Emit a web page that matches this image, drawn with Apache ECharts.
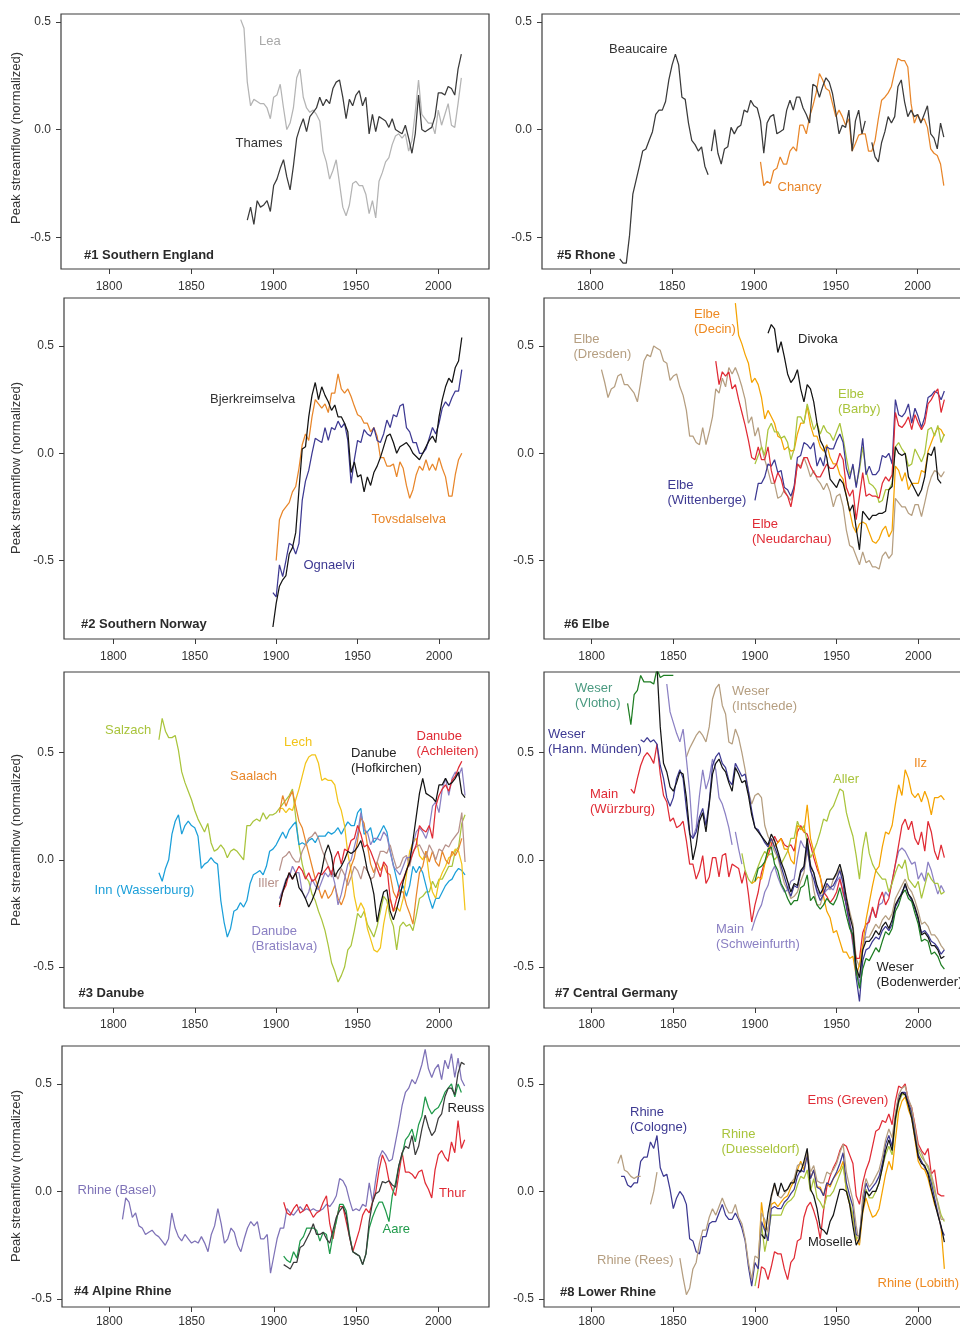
<!DOCTYPE html>
<html><head><meta charset="utf-8">
<script src="https://cdn.jsdelivr.net/npm/echarts@6/dist/echarts.min.js"></script>
<style>html,body{margin:0;padding:0;background:#fff}#c{width:960px;height:1327px}</style>
</head><body><div id="c"></div>
<script>
// ---------- tick labels ----------
const xTicks = [1800, 1850, 1900, 1950, 2000];
const yTicks = [-0.5, 0, 0.5];

// ---------- data (values every 2 years from the given start year) ----------
// #1 Southern England
const leaStart = 1880;
const lea = [0.51,0.47,0.22,0.11,0.14,0.13,0.12,0.12,0.10,0.05,0.15,0.16,0.21,0.10,0.00,0.03,0.10,0.24,0.28,0.15,0.10,0.08,0.09,0.07,0.04,-0.10,-0.15,-0.23,-0.19,-0.14,-0.25,-0.36,-0.40,-0.35,-0.25,-0.24,-0.26,-0.26,-0.30,-0.39,-0.33,-0.41,-0.24,-0.20,-0.15,-0.13,-0.07,-0.03,-0.02,-0.04,-0.02,-0.10,-0.05,0.08,0.23,0.07,0.05,0.03,0.03,-0.02,0.09,0.02,0.07,0.12,0.02,0.01,0.12,0.24];
const thamesStart = 1884;
const thames = [-0.42,-0.36,-0.44,-0.33,-0.36,-0.35,-0.33,-0.38,-0.26,-0.23,-0.18,-0.14,-0.22,-0.28,-0.17,-0.04,0.01,0.05,-0.01,0.06,0.08,0.10,0.15,0.11,0.14,0.12,0.19,0.22,0.23,0.15,0.05,0.14,0.11,0.16,0.18,0.11,0.15,-0.02,0.07,-0.01,0.06,0.05,0.04,0.01,0.05,0.00,-0.01,-0.02,0.02,-0.04,-0.11,-0.02,0.16,0.00,-0.01,0.00,0.01,0.06,0.17,0.17,0.16,0.20,0.19,0.16,0.28,0.35];

// #2 Southern Norway
const bjerkStart = 1898;
const bjerk = [-0.81,-0.70,-0.62,-0.59,-0.57,-0.47,-0.44,-0.37,-0.17,0.02,0.03,0.17,0.27,0.33,0.25,0.31,0.27,0.24,0.20,0.225,0.17,0.17,0.14,0.10,-0.09,-0.04,-0.11,-0.10,-0.18,-0.11,-0.15,-0.09,-0.06,-0.02,0.03,0.08,0.09,0.05,0.00,0.03,0.04,0.05,0.03,0.00,-0.015,-0.03,0.00,0.03,0.06,0.08,0.05,0.17,0.25,0.31,0.35,0.33,0.40,0.43,0.54];
const tovsStart = 1900;
const tovs = [-0.50,-0.31,-0.27,-0.25,-0.23,-0.18,-0.155,-0.07,0.04,0.09,0.06,0.17,0.25,0.23,0.21,0.23,0.19,0.28,0.28,0.37,0.30,0.28,0.30,0.265,0.22,0.18,0.17,0.14,0.14,0.10,0.12,0.08,-0.02,-0.02,-0.06,-0.06,-0.05,-0.11,-0.04,-0.07,-0.15,-0.21,-0.17,-0.10,-0.06,-0.08,-0.03,-0.08,-0.05,-0.08,-0.02,-0.07,-0.11,-0.20,-0.20,-0.10,-0.03,0.00];
const ognaStart = 1898;
const ogna = [-0.65,-0.67,-0.52,-0.575,-0.50,-0.42,-0.43,-0.47,-0.42,-0.22,-0.13,-0.08,0.00,0.07,0.06,0.05,0.12,0.06,0.12,0.11,0.15,0.12,0.14,0.06,-0.14,-0.03,0.06,0.05,0.11,0.09,0.08,0.12,0.06,0.05,0.09,0.155,0.12,0.18,0.17,0.22,0.23,0.12,0.10,0.05,0.05,0.00,0.00,0.02,0.07,0.12,0.09,0.14,0.21,0.24,0.22,0.26,0.29,0.29,0.39];

// #3 Danube
const salzachStart = 1828;
const salzach = [0.56,0.66,0.60,0.57,0.57,0.58,0.51,0.41,0.36,0.32,0.28,0.23,0.19,0.16,0.13,0.17,0.08,0.04,0.05,0.07,0.05,0.01,0.04,0.05,0.04,0.02,0.00,0.16,0.16,0.18,0.19,0.18,0.22,0.19,0.21,0.21,0.22,0.24,0.26,0.28,0.30,0.33,0.20,0.07,-0.02,-0.08,-0.10,-0.16,-0.19,-0.24,-0.28,-0.33,-0.40,-0.48,-0.52,-0.57,-0.54,-0.50,-0.42,-0.40,-0.33,-0.25,-0.27,-0.24,-0.30,-0.33,-0.36,-0.31,-0.24,-0.17,-0.19,-0.27,-0.31,-0.42,-0.31,-0.29,-0.31,-0.30,-0.33,-0.26,-0.18,-0.17,-0.15,-0.15,-0.10,-0.13,-0.09,-0.09,-0.06,-0.03,-0.03,0.04,0.06,0.17,0.21];
const innStart = 1828;
const inn = [-0.06,-0.10,-0.04,0.00,0.12,0.18,0.21,0.12,0.16,0.18,0.16,0.15,0.11,-0.04,-0.02,-0.01,0.01,-0.01,-0.02,-0.19,-0.29,-0.36,-0.32,-0.24,-0.23,-0.20,-0.22,-0.19,-0.11,-0.07,-0.06,-0.05,-0.07,-0.03,0.04,0.05,0.07,0.10,0.13,0.10,0.14,0.16,0.177,0.07,0.08,0.07,0.09,0.10,0.08,0.11,0.11,0.11,0.13,0.12,0.13,0.15,0.12,0.15,0.177,0.16,0.16,0.22,0.24,0.12,0.13,0.15,0.08,0.10,0.13,0.16,0.13,0.04,-0.025,-0.09,-0.15,-0.12,-0.17,-0.12,-0.03,-0.06,-0.03,-0.06,-0.12,-0.18,-0.227,-0.18,-0.18,-0.15,-0.12,-0.10,-0.09,-0.06,-0.04,-0.05,-0.07];
const lechStart = 1902;
const lech = [0.24,0.24,0.22,0.24,0.23,0.28,0.33,0.39,0.45,0.48,0.49,0.49,0.45,0.37,0.38,0.37,0.37,0.35,0.27,0.23,0.16,0.03,-0.05,-0.17,-0.24,-0.20,-0.23,-0.32,-0.37,-0.42,-0.43,-0.41,-0.30,-0.22,-0.18,-0.24,-0.22,-0.24,-0.18,-0.07,0.04,0.08,0.10,0.02,0.00,0.04,-0.08,-0.15,-0.18,-0.10,-0.06,-0.03,0.01,0.02,0.05,0.04,-0.02,-0.235];
const saalachStart = 1902;
const saalach = [0.22,0.30,0.25,0.29,0.32,0.25,0.18,0.15,0.09,0.03,-0.03,-0.09,-0.13,-0.18,-0.14,-0.18,-0.16,-0.12,-0.18,-0.21,-0.17,-0.09,-0.03,0.01,0.09,0.20,0.17,0.07,-0.02,-0.06,-0.01,-0.05,-0.02,-0.06,-0.07,-0.15,-0.18,-0.15,-0.15,-0.21,-0.25,-0.30,-0.17,-0.06,-0.03,0.04,-0.01,0.04,-0.01,-0.03,0.04,0.00,-0.02,0.04,0.02,0.05,0.10];
const illerStart = 1902;
const iller = [-0.05,0.01,0.02,0.04,0.01,-0.01,-0.01,0.04,0.07,0.10,0.11,0.13,0.10,0.05,0.01,-0.03,-0.08,-0.06,-0.09,-0.04,-0.07,-0.12,-0.08,-0.03,-0.05,-0.09,-0.03,-0.05,-0.09,-0.08,-0.01,0.04,0.04,0.03,0.07,0.01,-0.04,-0.03,0.01,0.02,-0.03,0.04,0.06,0.07,0.04,0.01,0.07,0.04,0.00,0.05,0.04,0.07,0.06,0.09,0.11,0.13,0.22,-0.01];
const bratStart = 1902;
const brat = [-0.18,-0.14,-0.09,-0.08,-0.03,-0.06,-0.06,-0.15,-0.18,-0.15,-0.09,-0.12,-0.14,-0.10,-0.06,-0.08,-0.05,-0.11,-0.21,-0.16,-0.09,-0.02,0.00,0.06,0.12,0.22,0.14,0.13,0.07,0.10,0.10,0.09,0.13,0.11,0.04,-0.03,-0.05,-0.07,-0.03,0.01,0.01,0.07,0.13,0.15,0.13,0.10,0.15,0.25,0.27,0.22,0.33,0.38,0.30,0.38,0.41,0.39,0.43,0.30];
const hofStart = 1902;
const hof = [-0.21,-0.15,-0.10,-0.06,-0.09,-0.06,-0.13,-0.15,-0.18,-0.22,-0.19,-0.15,-0.10,-0.05,0.03,0.07,0.02,-0.08,-0.05,-0.03,0.00,0.04,0.03,0.04,0.06,0.09,0.03,-0.05,-0.09,-0.16,-0.29,-0.21,-0.15,-0.14,-0.24,-0.28,-0.23,-0.17,-0.10,-0.05,-0.01,0.09,0.20,0.31,0.38,0.31,0.30,0.29,0.27,0.35,0.35,0.38,0.35,0.36,0.38,0.41,0.31,0.29];
const achStart = 1902;
const ach = [-0.22,-0.15,-0.12,-0.06,-0.09,-0.06,-0.03,-0.05,-0.09,-0.06,-0.10,-0.09,-0.06,-0.07,-0.05,-0.03,-0.07,0.01,0.04,-0.02,0.05,0.04,0.09,0.10,0.16,0.12,0.06,0.07,0.04,0.00,-0.04,-0.08,-0.01,-0.03,-0.18,-0.24,-0.18,-0.12,-0.09,-0.05,-0.01,0.03,0.07,0.16,0.14,0.13,0.16,0.10,0.25,0.30,0.33,0.35,0.32,0.37,0.39,0.43,0.46];

// #4 Alpine Rhine
const baselStart = 1808;
const basel = [-0.13,-0.03,-0.05,-0.12,-0.10,-0.16,-0.17,-0.20,-0.19,-0.18,-0.20,-0.21,-0.23,-0.25,-0.22,-0.10,-0.17,-0.21,-0.23,-0.20,-0.22,-0.24,-0.23,-0.24,-0.21,-0.24,-0.28,-0.20,-0.16,-0.08,-0.15,-0.24,-0.22,-0.17,-0.19,-0.25,-0.28,-0.22,-0.17,-0.14,-0.16,-0.14,-0.22,-0.22,-0.20,-0.38,-0.30,-0.22,-0.17,-0.17,-0.08,-0.10,-0.11,-0.09,-0.07,-0.09,-0.08,-0.09,-0.08,-0.09,-0.09,-0.08,-0.06,-0.07,-0.05,-0.02,0.06,0.05,0.02,-0.04,-0.09,-0.08,-0.09,-0.06,-0.07,0.04,-0.05,0.06,0.155,0.19,0.17,0.14,0.15,0.23,0.31,0.40,0.46,0.48,0.52,0.50,0.54,0.59,0.66,0.57,0.53,0.57,0.59,0.52,0.61,0.57,0.64,0.53,0.62,0.52,0.49];
const aareStart = 1906;
const aare = [-0.30,-0.32,-0.33,-0.28,-0.31,-0.23,-0.21,-0.17,-0.17,-0.17,-0.18,-0.23,-0.19,-0.20,-0.29,-0.20,-0.14,-0.06,-0.06,-0.09,-0.20,-0.28,-0.29,-0.30,-0.34,-0.29,-0.17,-0.12,-0.08,-0.05,-0.05,-0.09,-0.14,-0.02,0.04,0.12,0.17,0.24,0.26,0.29,0.23,0.31,0.35,0.44,0.39,0.36,0.38,0.39,0.42,0.46,0.48,0.50,0.44,0.50,0.46];
const reussStart = 1906;
const reuss = [-0.34,-0.35,-0.36,-0.33,-0.33,-0.26,-0.25,-0.22,-0.19,-0.15,-0.20,-0.20,-0.19,-0.22,-0.24,-0.18,-0.12,-0.09,-0.07,-0.11,-0.21,-0.28,-0.29,-0.30,-0.34,-0.29,-0.14,-0.05,-0.01,0.00,0.046,0.04,0.05,0.03,0.02,0.12,0.18,0.21,0.20,0.26,0.17,0.21,0.29,0.355,0.30,0.26,0.28,0.34,0.36,0.44,0.48,0.48,0.45,0.55,0.60,0.59];
const thurStart = 1906;
const thur = [-0.05,-0.10,-0.11,-0.08,-0.06,-0.10,-0.09,-0.06,-0.09,-0.12,-0.10,-0.09,-0.05,-0.02,-0.15,-0.22,-0.13,-0.07,-0.07,-0.14,-0.21,-0.28,-0.23,-0.18,-0.11,-0.08,-0.10,-0.05,0.00,0.10,0.17,0.13,0.05,0.01,-0.02,0.08,0.18,0.09,0.09,0.08,0.06,0.09,0.10,0.04,0.01,-0.03,0.10,0.17,0.19,0.16,0.14,0.23,0.18,0.33,0.20,0.24];

// #5 Rhone
const beauStartA = 1818;
const beauA = [-0.60,-0.62,-0.62,-0.49,-0.30,-0.235,-0.17,-0.10,-0.09,-0.05,-0.01,0.07,0.09,0.09,0.13,0.23,0.30,0.35,0.30,0.15,0.14,0.03,-0.05,-0.07,-0.10,-0.08,-0.17,-0.21];
const beauStartB = 1874;
const beauB = [-0.10,0.00,-0.11,-0.16,-0.09,-0.08,0.01,-0.02,0.01,0.02,0.09,0.08,0.136,0.11,0.10,0.04,-0.11,0.03,0.06,0.07,-0.02,-0.01,0.00,0.09,0.136,0.09,0.15,0.15,0.10,0.07,0.03,0.21,0.20,0.15,0.20,0.24,0.22,0.167,0.08,-0.02,0.02,0.01,0.09,-0.10,0.04,0.09,-0.02,0.04];
const beauStartC = 1972;
const beauC = [-0.06,-0.127,-0.15,-0.06,-0.01,0.06,0.03,0.06,0.20,0.23,0.13,0.06,0.09,0.06,0.07,0.03,0.07,0.11,-0.02,-0.04,-0.09,0.03,-0.035];
const chancyStart = 1904;
const chancy = [-0.15,-0.26,-0.24,-0.25,-0.19,-0.18,-0.127,-0.16,-0.16,-0.10,-0.08,-0.10,0.02,0.02,-0.02,0.06,0.11,0.17,0.26,0.23,0.19,0.18,0.12,0.06,0.09,0.06,0.02,0.05,-0.10,-0.065,-0.026,-0.02,-0.02,-0.10,-0.10,-0.05,0.05,0.136,0.15,0.17,0.20,0.27,0.33,0.32,0.32,0.29,0.12,0.03,0.07,0.04,0.05,0.01,-0.09,-0.11,-0.12,-0.16,-0.26];

// #6 Elbe
const dresdenStart = 1806;
const dresden = [0.39,0.33,0.26,0.30,0.31,0.36,0.37,0.32,0.32,0.30,0.28,0.24,0.33,0.43,0.46,0.45,0.50,0.49,0.48,0.43,0.42,0.34,0.36,0.37,0.31,0.27,0.20,0.08,0.08,0.05,0.04,0.12,0.04,0.10,0.17,0.30,0.28,0.35,0.31,0.40,0.37,0.40,0.36,0.31,0.25,0.14,0.17,0.08,0.12,0.03,-0.03,-0.08,-0.14,-0.14,-0.21,-0.20,-0.17,-0.20,-0.22,-0.16,-0.05,-0.06,-0.02,-0.06,-0.11,-0.08,-0.12,-0.14,-0.17,-0.14,-0.18,-0.25,-0.20,-0.19,-0.25,-0.36,-0.43,-0.44,-0.48,-0.52,-0.46,-0.51,-0.50,-0.53,-0.53,-0.54,-0.48,-0.46,-0.49,-0.47,-0.21,-0.23,-0.25,-0.25,-0.28,-0.29,-0.24,-0.24,-0.295,-0.23,-0.16,-0.11,-0.08,-0.09,-0.11,-0.085];
const decinStart = 1888;
const decin = [0.70,0.55,0.51,0.46,0.42,0.33,0.35,0.32,0.26,0.16,0.20,0.17,0.14,0.08,0.07,0.016,0.03,0.01,0.015,0.09,0.14,0.14,0.22,0.13,0.08,0.08,0.03,0.01,0.04,-0.02,-0.05,-0.05,-0.10,-0.12,-0.20,-0.27,-0.34,-0.37,-0.33,-0.32,-0.33,-0.37,-0.41,-0.42,-0.40,-0.36,-0.34,-0.39,-0.36,-0.06,-0.08,-0.13,-0.09,-0.17,-0.14,-0.14,-0.14,-0.08,-0.09,0.01,0.05,0.09,0.12,0.11,0.08];
const divokaStart = 1908;
const divoka = [0.56,0.60,0.58,0.47,0.52,0.45,0.37,0.33,0.35,0.39,0.30,0.24,0.32,0.30,0.24,0.14,0.06,0.03,-0.02,-0.12,-0.14,-0.16,-0.12,-0.14,-0.20,-0.27,-0.24,-0.35,-0.45,-0.27,-0.29,-0.31,-0.29,-0.29,-0.28,-0.28,-0.27,-0.17,-0.155,0.03,0.00,-0.01,0.00,-0.11,-0.14,-0.17,-0.20,-0.17,-0.11,0.00,-0.01,0.03,-0.12,-0.14];
const barbyStart = 1900;
const barby = [-0.05,-0.01,0.03,-0.01,0.11,0.14,0.10,0.10,0.07,0.08,0.05,-0.03,0.02,0.17,0.17,0.14,0.23,0.17,0.11,0.14,0.09,0.13,0.10,0.09,0.06,0.10,0.14,0.07,-0.02,-0.10,-0.06,-0.15,-0.08,0.03,-0.08,-0.14,-0.15,-0.17,-0.23,-0.22,-0.17,-0.17,-0.14,0.03,0.05,0.02,0.00,-0.06,-0.05,0.02,-0.01,-0.04,0.00,0.11,0.12,0.08,0.13,0.05,0.09];
const wittStart = 1900;
const witt = [-0.22,-0.14,-0.14,-0.11,-0.05,-0.06,-0.03,-0.09,-0.08,-0.16,-0.17,-0.20,-0.155,-0.02,-0.01,0.05,0.04,0.02,0.05,-0.06,-0.02,-0.06,0.03,0.02,0.02,0.06,0.09,0.05,-0.07,-0.12,-0.05,-0.16,-0.06,0.07,-0.10,-0.06,-0.10,-0.10,-0.08,-0.01,-0.02,0.00,-0.05,0.25,0.18,0.17,0.19,0.23,0.14,0.21,0.17,0.12,0.17,0.26,0.27,0.29,0.28,0.25,0.29];
const neudStart = 1876;
const neud = [0.43,0.32,0.38,0.36,0.38,0.30,0.32,0.25,0.19,0.13,0.06,-0.02,-0.03,0.03,-0.03,-0.03,0.03,-0.08,-0.14,-0.09,-0.12,-0.18,-0.20,-0.25,-0.17,-0.05,-0.07,-0.02,-0.02,-0.06,-0.09,-0.11,-0.11,-0.08,-0.05,-0.07,-0.07,-0.05,0.00,-0.03,-0.16,-0.20,-0.17,-0.31,-0.20,-0.09,-0.20,-0.19,-0.20,-0.20,-0.21,-0.14,-0.11,-0.13,-0.10,0.19,0.13,0.12,0.14,0.17,0.11,0.18,0.14,0.11,0.14,0.23,0.25,0.28,0.30,0.19,0.25];

// #7 Central Germany
const vlothoStartA = 1822;
const vlothoA = [0.73,0.63,0.77,0.79,0.86,0.83,0.83,0.83,0.82,0.89,0.85,0.86,0.86,0.86,0.86];
const vlothoStartB = 1900;
const vlothoB = [-0.10,-0.04,-0.03,-0.01,0.05,0.06,-0.02,-0.05,-0.11,-0.14,-0.18,-0.21,-0.19,-0.19,-0.13,-0.12,-0.07,-0.19,-0.17,-0.21,-0.23,-0.21,-0.18,-0.20,-0.21,-0.18,-0.13,-0.19,-0.26,-0.32,-0.35,-0.52,-0.60,-0.51,-0.46,-0.47,-0.44,-0.41,-0.43,-0.38,-0.335,-0.35,-0.32,-0.24,-0.21,-0.16,-0.14,-0.18,-0.195,-0.25,-0.30,-0.38,-0.37,-0.38,-0.44,-0.43,-0.45,-0.49,-0.51];
const bodenStart = 1840;
const boden = [0.90,0.62,0.45,0.41,0.34,0.32,0.36,0.41,0.40,0.29,0.13,0.00,0.07,0.18,0.22,0.13,0.26,0.40,0.45,0.47,0.43,0.41,0.36,0.32,0.43,0.40,0.36,0.37,0.30,0.21,0.15,0.13,0.11,0.09,0.07,0.12,0.09,0.04,-0.01,-0.05,-0.10,-0.15,-0.11,-0.12,-0.05,-0.03,0.10,-0.03,-0.06,-0.12,-0.16,-0.13,-0.09,-0.09,-0.09,-0.06,-0.02,-0.08,-0.18,-0.26,-0.32,-0.50,-0.55,-0.42,-0.38,-0.38,-0.36,-0.33,-0.35,-0.31,-0.29,-0.32,-0.28,-0.21,-0.18,-0.16,-0.11,-0.16,-0.18,-0.22,-0.27,-0.35,-0.34,-0.36,-0.40,-0.40,-0.42,-0.46,-0.45];
const hannStart = 1830;
const hann = [0.56,0.55,0.57,0.55,0.56,0.54,0.44,0.38,0.29,0.25,0.29,0.38,0.42,0.38,0.24,0.12,0.10,0.13,0.20,0.24,0.16,0.27,0.44,0.48,0.50,0.45,0.43,0.37,0.35,0.45,0.42,0.39,0.40,0.32,0.23,0.15,0.14,0.11,0.08,0.06,0.10,0.06,0.02,-0.03,-0.08,-0.13,-0.17,-0.12,-0.13,-0.06,-0.04,0.07,-0.05,-0.09,-0.15,-0.19,-0.16,-0.11,-0.13,-0.12,-0.09,-0.05,-0.11,-0.22,-0.30,-0.36,-0.55,-0.66,-0.47,-0.42,-0.41,-0.38,-0.36,-0.37,-0.33,-0.31,-0.33,-0.30,-0.22,-0.19,-0.15,-0.12,-0.16,-0.19,-0.23,-0.28,-0.34,-0.33,-0.35,-0.38,-0.39,-0.41,-0.44,-0.42];
const intschStart = 1858;
const intsch = [0.48,0.52,0.55,0.58,0.60,0.58,0.55,0.62,0.75,0.80,0.82,0.72,0.68,0.55,0.54,0.61,0.57,0.50,0.42,0.32,0.26,0.30,0.31,0.29,0.16,0.11,0.08,0.04,0.01,-0.05,-0.11,-0.14,-0.18,-0.17,-0.15,-0.10,-0.06,0.04,-0.03,-0.14,-0.21,-0.21,-0.16,-0.12,-0.14,-0.09,-0.07,-0.04,-0.10,-0.17,-0.24,-0.30,-0.46,-0.50,-0.40,-0.36,-0.36,-0.33,-0.30,-0.32,-0.28,-0.26,-0.28,-0.25,-0.18,-0.15,-0.12,-0.09,-0.13,-0.15,-0.19,-0.24,-0.30,-0.29,-0.31,-0.35,-0.35,-0.37,-0.40,-0.42];
const schwStartA = 1846;
const schwA = [0.82,0.69,0.64,0.59,0.55,0.61,0.47,0.32,0.10,0.15,0.30,0.42,0.33,0.38,0.47,0.42,0.29,0.26,0.21,0.15,0.07];
const schwStartB = 1888;
const schwB = [0.13,0.05,-0.02];
const schwStartC = 1898;
const schwC = [-0.33,-0.28,-0.24,-0.21,-0.15,-0.12,-0.06,-0.03,-0.08,-0.12,-0.15,-0.14,-0.10,-0.09,0.01,0.09,0.06,0.05,-0.02,-0.06,-0.14,-0.17,-0.16,-0.14,-0.13,-0.14,-0.10,-0.08,-0.16,-0.21,-0.28,-0.40,-0.50,-0.58,-0.42,-0.33,-0.27,-0.23,-0.27,-0.21,-0.20,-0.15,-0.17,-0.10,-0.02,0.04,0.055,0.04,0.01,-0.02,-0.01,-0.09,-0.06,-0.10,-0.01,-0.05,-0.11,-0.16,-0.12,-0.15];
const wurzStart = 1824;
const wurz = [0.33,0.31,0.38,0.44,0.48,0.50,0.48,0.45,0.54,0.40,0.30,0.27,0.18,0.195,0.15,0.16,0.18,0.09,-0.02,-0.02,-0.09,-0.05,0.02,-0.11,-0.08,0.01,0.01,-0.08,0.02,0.03,-0.08,-0.02,-0.03,-0.04,-0.11,-0.05,-0.16,-0.29,-0.21,-0.15,-0.06,-0.01,0.02,0.07,0.11,0.08,0.10,0.07,0.06,0.07,0.04,0.13,0.16,0.13,0.12,0.07,0.01,-0.04,-0.08,-0.15,-0.17,-0.20,-0.18,-0.15,-0.09,-0.15,-0.21,-0.30,-0.38,-0.46,-0.46,-0.34,-0.30,-0.29,-0.22,-0.27,-0.19,-0.15,-0.21,-0.18,-0.10,-0.02,0.07,0.16,0.19,0.14,0.18,0.10,0.07,0.13,0.04,0.18,0.13,0.04,0.00,0.07,0.01];
const allerStart = 1892;
const aller = [0.03,-0.05,-0.09,-0.11,-0.07,-0.03,0.01,0.04,0.02,0.03,0.00,0.02,-0.02,0.01,0.04,0.10,0.10,0.18,0.14,0.16,0.08,0.01,0.04,0.08,0.13,0.19,0.18,0.23,0.25,0.29,0.33,0.32,0.22,0.16,0.11,0.02,-0.09,0.05,0.13,0.03,-0.02,-0.05,-0.07,-0.09,-0.09,-0.15,-0.11,-0.06,-0.02,-0.04,0.00,-0.09,-0.11,-0.13,-0.10,-0.18,-0.12,-0.06,-0.09,-0.11,-0.11,-0.16,-0.15];
const ilzStart = 1898;
const ilz = [-0.11,-0.10,-0.08,-0.09,-0.02,0.04,0.10,0.06,0.08,0.10,0.05,0.05,0.00,-0.02,0.16,0.15,0.13,0.257,0.10,0.04,-0.02,-0.08,-0.17,-0.24,-0.27,-0.34,-0.33,-0.38,-0.43,-0.43,-0.46,-0.45,-0.54,-0.49,-0.40,-0.28,-0.20,-0.12,-0.05,-0.03,0.06,0.13,0.12,0.16,0.26,0.35,0.30,0.42,0.38,0.31,0.29,0.31,0.27,0.32,0.28,0.21,0.29,0.29,0.30,0.28];

// #8 Lower Rhine
const cologneStart = 1818;
const cologne = [0.07,0.07,0.03,0.02,0.04,0.04,0.14,0.16,0.16,0.23,0.20,0.26,0.11,0.07,0.08,0.01,-0.08,-0.03,0.00,-0.02,-0.06,-0.22,-0.23,-0.28,-0.29,-0.21,-0.21,-0.15,-0.14,-0.14,-0.10,-0.06,-0.11,-0.13,-0.13,-0.10,-0.13,-0.17,-0.23,-0.35,-0.44,-0.33,-0.36,-0.14,-0.18,-0.23,-0.08,-0.07,-0.08,-0.08,-0.05,-0.035,-0.01,0.01,0.07,0.10,0.09,0.17,0.06,0.10,0.02,0.01,-0.02,0.04,0.03,0.06,0.09,0.13,0.18,0.04,-0.02,-0.07,-0.20,-0.21,-0.05,0.04,0.00,0.02,0.04,0.07,0.13,0.22,0.26,0.21,0.35,0.44,0.46,0.46,0.41,0.37,0.28,0.17,0.14,0.11,0.09,0.04,-0.03,-0.10,-0.17,-0.205];
const reesStartA = 1816;
const reesA = [0.13,0.17,0.10,0.09,0.07,0.06,0.07,0.07];
const reesStartB = 1836;
const reesB = [-0.06,0.00,0.09];
const reesStartC = 1854;
const reesC = [-0.31,-0.40,-0.48,-0.45,-0.36,-0.33,-0.24,-0.18,-0.18,-0.12,-0.08,-0.11,-0.07,-0.03,-0.07,-0.10,-0.10,-0.06,-0.12,-0.15,-0.22,-0.33,-0.41,-0.30,-0.31,-0.10,-0.13,-0.19,-0.03,0.03,-0.02,-0.03,-0.01,0.01,0.04,0.06,0.12,0.13,0.12,0.19,0.09,0.12,0.05,0.04,0.04,0.09,0.08,0.10,0.13,0.18,0.22,0.09,0.02,-0.04,-0.16,-0.24,-0.02,0.06,0.02,0.04,0.07,0.10,0.16,0.24,0.29,0.25,0.36,0.45,0.48,0.49,0.43,0.39,0.30,0.20,0.18,0.14,0.12,0.08,0.02,-0.06,-0.13,-0.13];
const duessStart = 1900;
const duess = [-0.44,-0.36,-0.15,-0.28,-0.20,-0.11,-0.11,-0.11,-0.11,-0.07,-0.05,-0.04,-0.02,0.03,0.07,0.06,0.10,0.00,0.06,-0.03,-0.05,-0.08,-0.02,-0.02,0.00,0.04,0.08,0.12,0.01,-0.05,-0.11,-0.22,-0.21,-0.08,0.01,-0.03,-0.03,0.00,0.04,0.11,0.17,0.21,0.17,0.32,0.41,0.45,0.45,0.40,0.36,0.26,0.19,0.16,0.14,0.11,0.06,0.00,-0.05,-0.11,-0.14];
const moselleStart = 1904;
const moselle = [-0.20,-0.22,-0.10,-0.02,0.04,-0.02,0.04,0.00,0.01,0.04,0.04,0.10,0.09,0.14,0.20,0.01,-0.02,-0.08,-0.17,-0.18,-0.20,-0.14,-0.11,-0.05,0.01,0.01,0.00,-0.06,-0.16,-0.25,-0.22,-0.09,0.00,-0.02,0.00,0.00,0.04,0.11,0.19,0.24,0.19,0.34,0.42,0.46,0.45,0.40,0.34,0.25,0.16,0.13,0.12,0.08,0.01,-0.05,-0.11,-0.16,-0.236];
const emsStart = 1902;
const ems = [-0.45,-0.35,-0.36,-0.41,-0.35,-0.28,-0.29,-0.29,-0.36,-0.41,-0.33,-0.31,-0.23,-0.22,-0.12,-0.07,-0.05,-0.09,-0.14,-0.22,-0.09,0.02,0.07,0.11,0.14,0.19,0.22,0.21,0.17,0.13,-0.02,-0.06,0.04,0.10,0.14,0.21,0.28,0.29,0.33,0.32,0.36,0.31,0.42,0.49,0.48,0.50,0.42,0.39,0.31,0.22,0.19,0.17,0.20,0.08,0.10,-0.01,-0.02,-0.02];
const lobithStart = 1902;
const lobith = [-0.35,-0.05,-0.17,-0.18,-0.06,-0.05,-0.07,-0.05,-0.03,-0.02,0.02,0.05,0.10,0.14,0.10,0.18,0.06,0.10,0.02,0.02,-0.02,0.04,0.02,0.06,0.08,0.10,0.14,0.00,-0.06,-0.12,-0.22,-0.25,-0.10,-0.03,-0.08,-0.12,-0.11,-0.08,0.00,0.08,0.14,0.10,0.24,0.37,0.42,0.44,0.38,0.34,0.24,0.14,0.11,0.10,0.06,0.00,-0.06,-0.10,-0.17,-0.36];

// ---------- helpers ----------
function seg(start, vals) { return vals.map((v, i) => [start + 2 * i, v]); }
function join() {
  const out = [];
  Array.from(arguments).forEach((s, k) => { if (k > 0) out.push([s[0][0] - 1, null]); out.push(...s); });
  return out;
}
const FONT = '"Liberation Sans", Arial, Helvetica, sans-serif';

// Right-hand panels are wider than the 960px page; they are cut at the page edge.
const panels = [
  { grid: { left: 61,  top: 14,   width: 428, height: 255 }, x: [1770.85, 2030.8], y: [-0.647, 0.536], lm: 12 },
  { grid: { left: 64,  top: 298,  width: 425, height: 341 }, x: [1769.7, 2030.7],  y: [-0.866, 0.724], lm: 12 },
  { grid: { left: 64,  top: 672,  width: 425, height: 336 }, x: [1769.7, 2030.7],  y: [-0.691, 0.876], lm: 11 },
  { grid: { left: 62,  top: 1046, width: 427, height: 261 }, x: [1771.25, 2030.8], y: [-0.537, 0.676], lm: 9 },
  { grid: { left: 542, top: 14,   width: 428, height: 255 }, x: [1770.5, 2032],    y: [-0.647, 0.536], lm: 12 },
  { grid: { left: 544, top: 298,  width: 426, height: 341 }, x: [1770.8, 2031.7],  y: [-0.866, 0.724], lm: 12 },
  { grid: { left: 544, top: 672,  width: 426, height: 336 }, x: [1770.8, 2031.7],  y: [-0.691, 0.876], lm: 11 },
  { grid: { left: 544, top: 1046, width: 426, height: 261 }, x: [1770.8, 2031.7],  y: [-0.537, 0.676], lm: 9 }
];

const C = {
  lgray: '#b4b4b4', dgray: '#3a3a3a', black: '#141414', orange: '#e8862a', amber: '#f5a300',
  navy: '#3d3992', tan: '#b59e80', lime: '#a9c43c', red: '#e02b35', cyan: '#1b9fd9',
  yellow: '#f2c41a', mauve: '#b8928b', lav: '#8b80c3', lav2: '#7e72b7', green: '#1f9a4a', dgreen: '#1e7d22'
};

const seriesDefs = [
  [0, C.lgray, seg(leaStart, lea)],
  [0, C.dgray, seg(thamesStart, thames)],
  [1, C.orange, seg(tovsStart, tovs)],
  [1, C.navy, seg(ognaStart, ogna)],
  [1, C.black, seg(bjerkStart, bjerk)],
  [2, C.lime, seg(salzachStart, salzach)],
  [2, C.cyan, seg(innStart, inn)],
  [2, C.yellow, seg(lechStart, lech)],
  [2, C.orange, seg(saalachStart, saalach)],
  [2, C.mauve, seg(illerStart, iller)],
  [2, C.lav, seg(bratStart, brat)],
  [2, C.red, seg(achStart, ach)],
  [2, C.black, seg(hofStart, hof)],
  [3, C.lav2, seg(baselStart, basel)],
  [3, C.red, seg(thurStart, thur)],
  [3, C.green, seg(aareStart, aare)],
  [3, C.dgray, seg(reussStart, reuss)],
  [4, C.orange, seg(chancyStart, chancy)],
  [4, C.dgray, join(seg(beauStartA, beauA), seg(beauStartB, beauB), seg(beauStartC, beauC))],
  [5, C.tan, seg(dresdenStart, dresden)],
  [5, C.amber, seg(decinStart, decin)],
  [5, C.lime, seg(barbyStart, barby)],
  [5, C.navy, seg(wittStart, witt)],
  [5, C.red, seg(neudStart, neud)],
  [5, C.black, seg(divokaStart, divoka)],
  [6, C.tan, seg(intschStart, intsch)],
  [6, C.lav, join(seg(schwStartA, schwA), seg(schwStartB, schwB), seg(schwStartC, schwC))],
  [6, C.red, seg(wurzStart, wurz)],
  [6, C.lime, seg(allerStart, aller)],
  [6, C.amber, seg(ilzStart, ilz)],
  [6, C.navy, seg(hannStart, hann)],
  [6, C.dgreen, join(seg(vlothoStartA, vlothoA), seg(vlothoStartB, vlothoB))],
  [6, C.black, seg(bodenStart, boden)],
  [7, C.red, seg(emsStart, ems)],
  [7, C.amber, seg(lobithStart, lobith)],
  [7, C.lime, seg(duessStart, duess)],
  [7, C.navy, seg(cologneStart, cologne)],
  [7, C.tan, join(seg(reesStartA, reesA), seg(reesStartB, reesB), seg(reesStartC, reesC))],
  [7, C.black, seg(moselleStart, moselle)]
];

// ---------- text labels ----------
const labels = [
  ['Lea', 259, 41.5, '#a8a8a8'], ['Thames', 235.5, 143.5, '#333'],
  ['Beaucaire', 609, 50, '#333'], ['Chancy', 777.5, 187.5, C.orange],
  ['Bjerkreimselva', 210, 399.5, '#333'], ['Tovsdalselva', 371.5, 519.5, C.orange], ['Ognaelvi', 303.5, 566, C.navy],
  ['Elbe\n(Dresden)', 573.5, 339.5, C.tan], ['Elbe\n(Decin)', 694, 315, '#ee8a22'], ['Divoka', 798, 339.5, '#222'],
  ['Elbe\n(Barby)', 838, 395, C.lime], ['Elbe\n(Wittenberge)', 667.5, 486, C.navy], ['Elbe\n(Neudarchau)', 752, 525, C.red],
  ['Salzach', 105, 731, C.lime], ['Lech', 284, 742.5, C.yellow], ['Saalach', 230, 777, C.orange],
  ['Danube\n(Hofkirchen)', 351, 754, '#222'], ['Danube\n(Achleiten)', 416.5, 737, C.red],
  ['Inn (Wasserburg)', 94.5, 891, C.cyan], ['Iller', 258, 883.5, C.mauve], ['Danube\n(Bratislava)', 251.5, 931.5, C.lav],
  ['Weser\n(Vlotho)', 575, 688.5, '#4a9a80'], ['Weser\n(Intschede)', 732, 691.5, C.tan],
  ['Weser\n(Hann. Münden)', 548, 734.5, C.navy], ['Main\n(Würzburg)', 590, 794.5, C.red],
  ['Aller', 833, 779.5, C.lime], ['Ilz', 914, 763.5, '#ee8a22'], ['Main\n(Schweinfurth)', 716, 929.5, C.lav],
  ['Weser\n(Bodenwerder)', 876.5, 967.5, '#222'],
  ['Rhine (Basel)', 77.5, 1190.5, C.lav2], ['Reuss', 447.5, 1108.5, '#222'], ['Thur', 439, 1193.5, C.red], ['Aare', 382.5, 1230, C.green],
  ['Rhine\n(Cologne)', 630, 1112.5, C.navy], ['Rhine\n(Duesseldorf)', 721.5, 1134.5, C.lime], ['Ems (Greven)', 807.5, 1101, C.red],
  ['Moselle', 808, 1242.5, '#222'], ['Rhine (Rees)', 597, 1261, C.tan], ['Rhine (Lobith)', 877.5, 1283.5, '#ee8a22']
];
const titles = [
  ['#1 Southern England', 84, 257], ['#2 Southern Norway', 81, 626], ['#3 Danube', 78.5, 995], ['#4 Alpine Rhine', 74, 1293],
  ['#5 Rhone', 557, 257], ['#6 Elbe', 564, 626], ['#7 Central Germany', 555, 995], ['#8 Lower Rhine', 560, 1293.5]
];
const yTitleY = [138, 468, 840, 1176];

const graphic = [];
labels.forEach(([t, x, y, c]) => graphic.push({
  type: 'text', left: x, top: y - 8, silent: true, z: 50,
  style: { text: t, fill: c, fontSize: 13, fontFamily: FONT, lineHeight: 15 }
}));
titles.forEach(([t, x, y]) => graphic.push({
  type: 'text', left: x, top: y - 8, silent: true, z: 50,
  style: { text: t, fill: '#2a2a2a', fontSize: 13, fontWeight: 'bold', fontFamily: FONT }
}));
yTitleY.forEach(y => graphic.push({
  type: 'text', x: 16.5, y: y, rotation: Math.PI / 2, silent: true, z: 50,
  style: { text: 'Peak streamflow (normalized)', fill: '#333', fontSize: 13, fontFamily: FONT, textAlign: 'center', textVerticalAlign: 'middle' }
}));

const option = {
  animation: false,
  backgroundColor: '#fff',
  grid: panels.map(p => Object.assign({
    show: true, borderColor: '#3c3c3c', borderWidth: 1.2, backgroundColor: 'transparent',
    containLabel: false, outerBoundsMode: 'none'
  }, p.grid)),
  xAxis: panels.map((p, i) => ({
    type: 'value', gridIndex: i, min: p.x[0], max: p.x[1], position: 'bottom',
    axisLine: { show: false, onZero: false }, splitLine: { show: false },
    axisTick: { show: true, length: 5, lineStyle: { color: '#3c3c3c', width: 1 }, customValues: xTicks },
    axisLabel: { color: '#333', fontSize: 12, fontFamily: FONT, margin: p.lm, customValues: xTicks, formatter: v => String(v) }
  })),
  yAxis: panels.map((p, i) => ({
    type: 'value', gridIndex: i, min: p.y[0], max: p.y[1], position: 'left',
    axisLine: { show: false, onZero: false }, splitLine: { show: false },
    axisTick: { show: true, length: 5, lineStyle: { color: '#3c3c3c', width: 1 }, customValues: yTicks },
    axisLabel: { color: '#333', fontSize: 12, fontFamily: FONT, margin: 10, customValues: yTicks, formatter: v => v.toFixed(1) }
  })),
  series: seriesDefs.map(([g, color, data]) => ({
    type: 'line', xAxisIndex: g, yAxisIndex: g, data: data, symbol: 'none', showSymbol: false,
    connectNulls: false, clip: true, silent: true, z: 2,
    lineStyle: { color: color, width: 1.25 }, itemStyle: { color: color }
  })),
  graphic: graphic
};

const chart = echarts.init(document.getElementById('c'), null, { renderer: 'canvas' });
chart.setOption(option);
</script>
</body></html>
